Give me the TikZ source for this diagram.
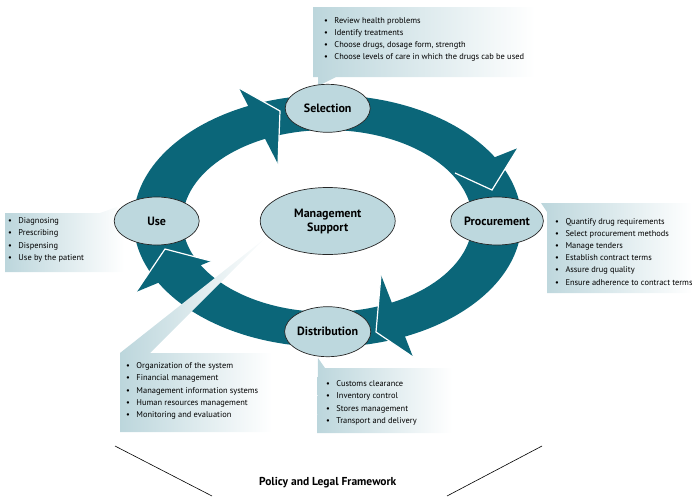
\documentclass[tikz,border=0pt]{standalone}
\usepackage{fontspec}
\setmainfont{PT Sans}
\usetikzlibrary{shapes.geometric, positioning}
\definecolor{ringteal}{HTML}{0B6679}
\definecolor{ovalfill}{HTML}{BDD8DE}
\definecolor{boxfill}{HTML}{BCD6DC}
\newcommand{\bul}{\textbullet\hspace{6.5pt}}

\begin{document}
\begin{tikzpicture}[x=1pt, y=-1pt,
    phase/.style={ellipse, draw=black!85, line width=0.7pt, fill=ovalfill, minimum width=85pt, minimum height=48pt, inner sep=0pt, font=\fontsize{12}{14}\selectfont\bfseries},
    callout/.style={left color=boxfill, right color=white},
    itemlist/.style={anchor=north west, align=left, inner sep=0pt, font=\fontsize{8.4}{12.2}\selectfont},
    headedge/.style={draw=white, line width=1.2pt}
]
    \useasboundingbox (0,0) rectangle (692,496);
    \coordinate (c) at (327.5,221);

    % Cycle ring
    \fill[ringteal, even odd rule] (c) ellipse [x radius=194, y radius=126]
        (c) ellipse [x radius=145, y radius=91];

    % Arrow heads (outer barb, tip, inner barb)
    \coordinate (ha1) at (239,88);  \coordinate (ha2) at (280,111); \coordinate (ha3) at (278,164);
    \coordinate (hb1) at (518,148); \coordinate (hb2) at (492,190); \coordinate (hb3) at (455,173);
    \coordinate (hc1) at (413,357); \coordinate (hc2) at (376,332); \coordinate (hc3) at (381,275);
    \coordinate (hd1) at (136,292); \coordinate (hd2) at (165,249); \coordinate (hd3) at (211,261);
    \foreach \h in {ha,hb,hc,hd} {
        \fill[ringteal] (\h1) -- (\h2) -- (\h3) -- cycle;
        \draw[headedge] (\h1) -- (\h2) -- (\h3);
    }

    % Callout boxes
    \shade[callout] (313,7) -- (535,7) -- (535,77) -- (336,77) -- (318,86) -- (318,77) -- (313,77) -- cycle;
    \shade[callout] (5,213) -- (100,213) -- (117,207) -- (124,214) -- (124,272) -- (5,272) -- cycle;
    \shade[callout] (541,203) -- (692,203) -- (692,293) -- (547,293) -- (547,212) -- cycle;
    \shade[callout] (318,358) -- (325,368) -- (452,368) -- (452,433) -- (317,433) -- cycle;
    \shade[callout] (120,353) -- (263,240) -- (150,353) -- (272,353) -- (272,432) -- (120,432) -- cycle;

    % Stages
    \node[phase] (select) at (327.7,108.3) {Selection};
    \node[phase] (procure) at (497,221) {Procurement};
    \node[phase, minimum height=50pt] (distrib) at (327.7,331.7) {Distribution};
    \node[phase] (use) at (156.7,221) {Use};
    \node[phase, minimum width=135pt, minimum height=67pt, align=center] (mgmt) at (327.7,221) {Management\\Support};

    % Activity lists
    \node[itemlist] (selectlist) at (324,17) {\bul Review health problems\\ \bul Identify treatments\\ \bul Choose drugs, dosage form, strength\\ \bul Choose levels of care in which the drugs cab be used};
    \node[itemlist] (uselist) at (8,217.5) {\bul Diagnosing\\ \bul Prescribing\\ \bul Dispensing\\ \bul Use by the patient};
    \node[itemlist] (procurelist) at (555,218) {\bul Quantify drug requirements\\ \bul Select procurement methods\\ \bul Manage tenders\\ \bul Establish contract terms\\ \bul Assure drug quality\\ \bul Ensure adherence to contract terms};
    \node[itemlist] (distriblist) at (326,380.5) {\bul Customs clearance\\ \bul Inventory control\\ \bul Stores management\\ \bul Transport and delivery};
    \node[itemlist] (mgmtlist) at (126,362.5) {\bul Organization of the system\\ \bul Financial management\\ \bul Management information systems\\ \bul Human resources management\\ \bul Monitoring and evaluation};

    % Policy frame
    \coordinate (pl1) at (115,446); \coordinate (pl2) at (212,496);
    \coordinate (pr1) at (542,446); \coordinate (pr2) at (447,496);
    \draw[line width=0.6pt] (pl1) -- (pl2);
    \draw[line width=0.6pt] (pr1) -- (pr2);
    \node[font=\fontsize{11.5}{13}\selectfont\bfseries] (policy) at (327.7,483) {Policy and Legal Framework};
\end{tikzpicture}
\end{document}
